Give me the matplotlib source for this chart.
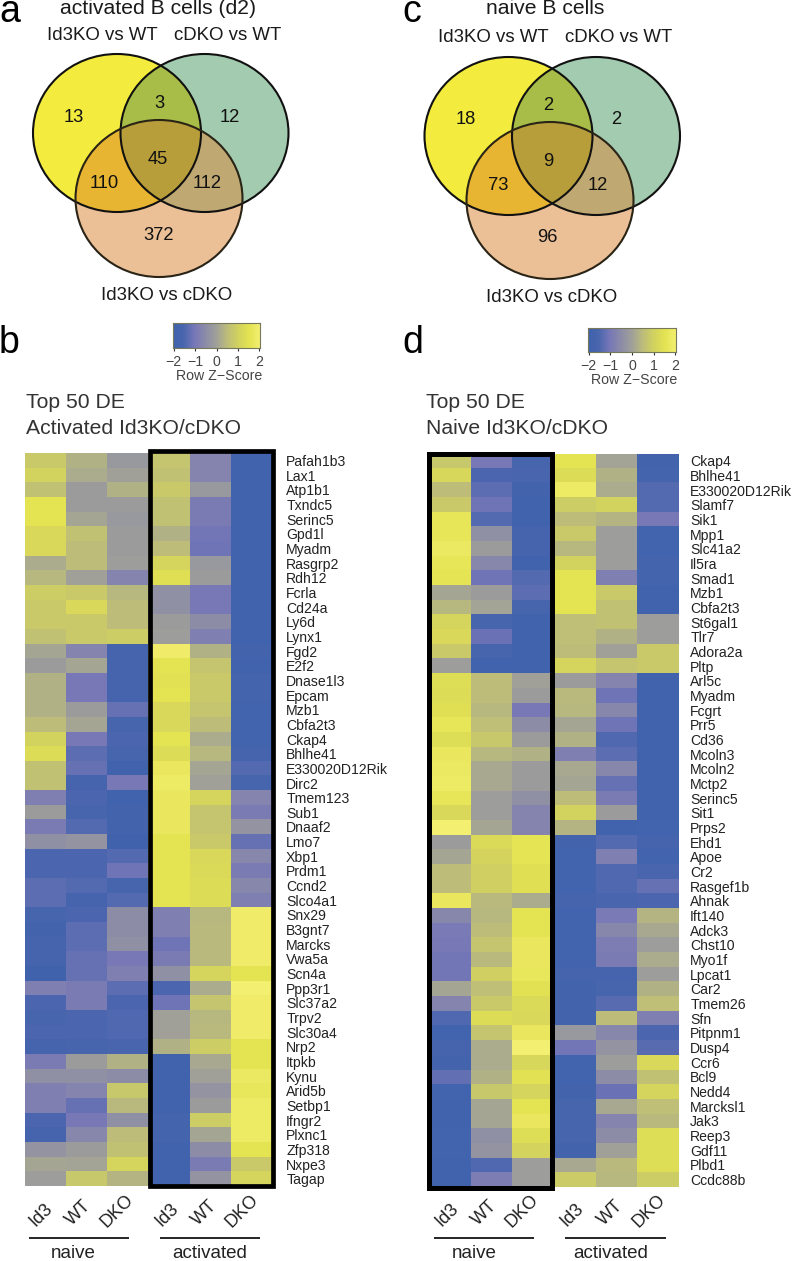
import numpy as np
import matplotlib
matplotlib.use('Agg')
import matplotlib.pyplot as plt
from matplotlib.colors import LinearSegmentedColormap
from matplotlib.patches import Ellipse, Polygon, Rectangle

plt.rcParams['font.family'] = ['Liberation Sans', 'DejaVu Sans']

W, H = 794, 1261

samples = ['Id3', 'WT', 'DKO', 'Id3', 'WT', 'DKO']
zticks = [-2, -1, 0, 1, 2]

counts_a = ['13', '3', '12', '45', '110', '112', '372']
counts_c = ['18', '2', '2', '9', '73', '12', '96']

genes_b = ['Pafah1b3', 'Lax1', 'Atp1b1', 'Txndc5', 'Serinc5', 'Gpd1l', 'Myadm', 'Rasgrp2', 'Rdh12', 'Fcrla',
           'Cd24a', 'Ly6d', 'Lynx1', 'Fgd2', 'E2f2', 'Dnase1l3', 'Epcam', 'Mzb1', 'Cbfa2t3', 'Ckap4',
           'Bhlhe41', 'E330020D12Rik', 'Dirc2', 'Tmem123', 'Sub1', 'Dnaaf2', 'Lmo7', 'Xbp1', 'Prdm1', 'Ccnd2',
           'Slco4a1', 'Snx29', 'B3gnt7', 'Marcks', 'Vwa5a', 'Scn4a', 'Ppp3r1', 'Slc37a2', 'Trpv2', 'Slc30a4',
           'Nrp2', 'Itpkb', 'Kynu', 'Arid5b', 'Setbp1', 'Ifngr2', 'Plxnc1', 'Zfp318', 'Nxpe3', 'Tagap']

z_b = [[.8, .3, -.2, .7, -.7, -1.9], [1.0, .2, 0, .6, -.7, -1.9], [.6, -.1, .3, .8, -.2, -1.9],
       [1.5, -.1, -.1, .6, -.9, -1.9], [1.5, .1, -.2, .6, -.9, -1.9], [1.2, .6, -.1, .3, -1.05, -1.9],
       [1.2, .5, -.1, .5, -1.1, -1.9], [.2, .5, -.05, 1.1, -.2, -1.9], [.4, 0, -.7, 1.4, -.1, -1.9],
       [.9, .8, .4, -.4, -1.0, -1.9], [.8, 1.2, .5, -.4, -1.0, -1.9], [.8, .8, .5, -.1, -.5, -1.9],
       [.6, .8, .9, -.05, -.8, -1.9], [.1, -.7, -1.7, 1.9, .3, -1.8], [-.1, .1, -1.7, 1.5, .7, -1.9],
       [.3, -1.0, -1.7, 1.45, .8, -1.75], [.3, -1.0, -1.7, 1.5, .8, -1.75], [.3, -.1, -1.2, 1.2, .7, -1.85],
       [.5, .1, -1.6, 1.2, .5, -1.85], [1.0, -1.0, -1.5, 1.5, .2, -1.85], [1.3, -1.3, -1.6, 1.3, .4, -1.7],
       [.6, -1.2, -1.9, 1.7, .1, -1.4], [.6, -1.7, -1.0, 1.8, 0, -1.6], [-.8, -1.5, -1.9, 1.7, 1.1, -.7],
       [-.1, -1.6, -1.8, 1.7, .7, -.9], [-.9, -1.4, -1.8, 1.7, .7, -.3], [-.4, -.3, -1.95, 1.5, .8, -1.2],
       [-1.5, -1.5, -1.4, 1.5, 1.2, -.6], [-1.5, -1.5, -1.1, 1.5, 1.25, -.9], [-1.3, -1.4, -1.6, 1.5, 1.3, -.6],
       [-1.3, -1.7, -1.4, 1.5, 1.3, -.8], [-1.6, -1.5, -.5, -.8, .4, 1.9], [-1.8, -1.3, -.5, -.8, .45, 1.9],
       [-1.7, -1.3, -.4, -1.1, .45, 1.9], [-1.7, -1.2, -1.0, -.9, .45, 1.9], [-1.95, -1.2, -.8, -.4, 1.1, 1.5],
       [-.8, -.9, -1.3, -1.5, .2, 2.0], [-1.5, -.9, -1.5, -1.1, .7, 1.9], [-1.6, -1.5, -1.45, 0, .4, 1.9],
       [-1.5, -1.5, -1.45, 0, .45, 1.9], [-1.7, -1.6, -1.55, .3, .9, 1.5], [-.9, -.1, .3, -1.9, .15, 1.5],
       [-.4, -.4, -.5, -1.9, 0, 1.75], [-.8, -.7, .75, -1.9, -.3, 1.65], [-.8, -1.2, .45, -1.9, -.1, 1.8],
       [-1.5, -1, -.4, -1.75, .9, 1.8], [-1.7, -.6, .5, -1.75, .1, 1.8], [-.3, -.1, .6, -1.9, -.5, 1.5],
       [.1, .05, 1.1, -1.9, -.9, .8], [-.05, .75, .35, -1.9, -.3, 1.1]]

genes_d = ['Ckap4', 'Bhlhe41', 'E330020D12Rik', 'Slamf7', 'Sik1', 'Mpp1', 'Slc41a2', 'Il5ra', 'Smad1', 'Mzb1',
           'Cbfa2t3', 'St6gal1', 'Tlr7', 'Adora2a', 'Pltp', 'Arl5c', 'Myadm', 'Fcgrt', 'Prr5', 'Cd36',
           'Mcoln3', 'Mcoln2', 'Mctp2', 'Serinc5', 'Sit1', 'Prps2', 'Ehd1', 'Apoe', 'Cr2', 'Rasgef1b',
           'Ahnak', 'Ift140', 'Adck3', 'Chst10', 'Myo1f', 'Lpcat1', 'Car2', 'Tmem26', 'Sfn', 'Pitpnm1',
           'Dusp4', 'Ccr6', 'Bcl9', 'Nedd4', 'Marcksl1', 'Jak3', 'Reep3', 'Gdf11', 'Plbd1', 'Ccdc88b']

z_d = [[.75, -1.0, -1.6, 1.5, .05, -1.8], [1.15, -1.5, -1.55, 1.3, .3, -1.75], [.5, -1.3, -1.8, 1.8, .2, -1.4],
       [.8, -1.1, -1.9, .9, 1.0, -1.4], [1.6, -1.4, -1.9, .5, .35, -1.0], [1.6, -.4, -1.7, .8, -.05, -1.85],
       [1.75, -.1, -1.7, .4, -.05, -1.85], [1.6, -.6, -1.9, 1.0, -.05, -1.75], [1.55, -1.1, -1.4, 1.5, -.8, -1.75],
       [.1, -.1, -1.3, 1.5, .8, -1.9], [.4, .05, -1.6, 1.5, .6, -1.9], [1.1, -1.6, -1.9, .55, .6, -.05],
       [1.2, -1.15, -1.9, .55, .3, -.05], [.8, -1.6, -1.9, .5, 0, .8], [-.05, -1.9, -1.9, 1.1, .7, .8],
       [1.35, .5, 0, -.1, -.7, -1.9], [1.3, .5, -.1, .45, -1.1, -1.9], [1.4, .4, -1.0, .4, -.6, -1.9],
       [1.6, .55, -.5, .1, -1.1, -1.9], [1.35, .75, -.1, .3, -1.45, -1.9], [1.7, .4, .3, -.8, -1.3, -1.9],
       [1.75, .15, -.1, .15, -.6, -1.9], [1.8, .15, -.1, .1, -1.2, -1.9], [1.6, -.05, -.4, .5, -.9, -1.9],
       [1.2, -.05, -.7, 1.0, -.1, -1.9], [2.0, .1, -.7, .35, -1.9, -1.85], [-.1, 1.25, 1.55, -1.8, -1.4, -1.7],
       [.1, 1.05, 1.55, -1.85, -.8, -1.85], [.5, .95, 1.4, -1.85, -1.45, -1.55], [.5, .95, 1.4, -1.85, -1.45, -1.2],
       [1.7, .45, .2, -1.65, -1.55, -1.5], [-.6, .4, 1.5, -1.85, -.95, .35], [-.95, .5, 1.5, -1.85, -.6, .15],
       [-1.0, .7, 1.7, -1.85, -.85, -.05], [-1.05, .45, 1.7, -1.85, -.9, .2], [-1.05, .95, 1.65, -1.7, -1.7, -.05],
       [.1, .55, 1.45, -1.8, -1.6, .3], [-.7, .8, 1.25, -1.8, -1.35, .55], [-1.45, 1.3, 1.2, -1.8, .5, -.8],
       [-1.85, .7, 1.7, -.2, -.6, -1.5], [-1.7, .2, 2.2, -1.05, -.3, -1.35], [-1.8, .2, 1.15, -1.85, -.05, 1.2],
       [-1.25, .3, 1.45, -1.85, -.5, .6], [-1.85, .75, 1.1, -1.8, -1.15, 1.1], [-1.9, .1, 1.5, -1.6, .15, .55],
       [-1.9, .1, 1.7, -1.6, -.7, .45], [-1.85, -.4, 1.35, -1.6, -.5, 1.35], [-1.85, -.3, 1.05, -1.8, 0, 1.35],
       [-1.9, -1.45, -.05, .15, .45, 1.35], [-1.9, -.85, -.05, .85, .4, .9]]

# blue - purple - grey - yellow
cmap = LinearSegmentedColormap.from_list('zscore', [
    (0.0, '#3F62AD'), (0.12, '#4A66AE'), (0.25, '#7878B8'), (0.375, '#8C8CA8'), (0.5, '#A0A09A'),
    (0.625, '#BDBD7A'), (0.75, '#D2D260'), (0.875, '#E4E352'), (1.0, '#F3EF70')])


def px_axes(x0, y0, x1, y1, **kw):
    return fig.add_axes([x0 / W, 1 - y1 / H, (x1 - x0) / W, (y1 - y0) / H], **kw)


def heatmap(box, z, genes, pad):
    ax = px_axes(*box)
    ax.imshow(np.array(z), cmap=cmap, vmin=-2, vmax=2, aspect='auto', interpolation='nearest')
    ax.set_xticks([])
    ax.set_yticks(range(len(genes)))
    ax.set_yticklabels(genes, fontsize=10.1, color='#222222', va='center_baseline')
    ax.yaxis.tick_right()
    ax.tick_params(axis='y', length=0, pad=pad)
    for s in ax.spines.values():
        s.set_visible(False)


def colour_key(box, title_xy):
    ax = px_axes(*box)
    ax.imshow(np.linspace(-2, 2, 256)[None, :], cmap=cmap, vmin=-2, vmax=2, aspect='auto', extent=[-2.03, 2.03, 0, 1])
    ax.set_yticks([])
    ax.set_xticks(zticks)
    ax.set_xticklabels(['\u2212%d' % -t if t < 0 else str(t) for t in zticks], fontsize=10.2, color='#444444')
    ax.tick_params(axis='x', length=2.5, width=0.8, pad=2.5, color='#333333')
    for s in ax.spines.values():
        s.set_color('#77775a')
        s.set_linewidth(0.8)
    over.text(title_xy[0], title_xy[1], 'Row Z\u2212Score', fontsize=10.2, color='#444444', ha='center', va='center')


def in_ellipse(p, c, rx, ry):
    return ((p[:, 0] - c[0]) / rx) ** 2 + ((p[:, 1] - c[1]) / ry) ** 2 <= 1.0001


def overlap(circles):
    # boundary points of each ellipse lying inside all the others, sorted round the centroid
    t = np.linspace(0, 2 * np.pi, 1500)
    pts = []
    for c, rx, ry in circles:
        p = np.c_[c[0] + rx * np.cos(t), c[1] + ry * np.sin(t)]
        for c2, rx2, ry2 in circles:
            p = p[in_ellipse(p, c2, rx2, ry2)]
        pts.append(p)
    pts = np.vstack(pts)
    m = pts.mean(axis=0)
    return pts[np.argsort(np.arctan2(pts[:, 1] - m[1], pts[:, 0] - m[0]))]


def venn(yc, gc, oc, counts, count_pos):
    y = (yc, 84, 79)
    g = (gc, 84, 79)
    o = (oc, 83.5, 78.5)
    for (c, rx, ry), col in zip([y, g, o], ['#F3EC3E', '#A3CBAF', '#ECC097']):
        over.add_patch(Ellipse(c, 2 * rx, 2 * ry, fc=col, ec='none'))
    for parts, col in [((y, g), '#A8BC48'), ((y, o), '#E7B532'), ((g, o), '#BFA872'), ((y, g, o), '#B89E3A')]:
        over.add_patch(Polygon(overlap(parts), closed=True, fc=col, ec='none'))
    for (c, rx, ry), col in zip([y, g, o], ['#111111', '#111111', '#2a2416']):
        over.add_patch(Ellipse(c, 2 * rx, 2 * ry, fc='none', ec=col, lw=1.5))
    for label, xy in zip(counts, count_pos):
        over.text(xy[0], xy[1], label, fontsize=13.2, color='#111111', ha='center', va='center')


fig = plt.figure(figsize=(W / 100, H / 100), dpi=100)

heatmap((25, 453.3, 272, 1186), z_b, genes_b, 10.2)
heatmap((429, 453.5, 678, 1186.7), z_d, genes_d, 8.8)

# pixel-coordinate layer for venns, titles and frames
over = fig.add_axes([0, 0, 1, 1], zorder=5)
over.set_xlim(0, W)
over.set_ylim(H, 0)
over.axis('off')

venn((117, 133), (204.5, 133), (159, 198.5), counts_a,
     [(74, 117), (159, 103), (230, 117), (158, 159), (104, 184), (207, 184), (159, 236)])
venn((508.5, 136), (596, 136), (550, 200.5), counts_c,
     [(466, 119), (548, 106), (616, 119), (548, 162), (498, 185), (598, 185), (547, 238)])

over.text(158, 9, 'activated B cells (d2)', fontsize=15.2, color='#1a1a1a', ha='center', va='center')
over.text(545, 9, 'naive B cells', fontsize=15.2, color='#1a1a1a', ha='center', va='center')
for x, y, s in [(102, 36, 'Id3KO vs WT'), (228, 36, 'cDKO vs WT'), (167, 295, 'Id3KO vs cDKO'),
                (493, 38, 'Id3KO vs WT'), (619, 38, 'cDKO vs WT'), (552, 297, 'Id3KO vs cDKO')]:
    over.text(x, y, s, fontsize=13.4, color='#1a1a1a', ha='center', va='center')

for x, y, s in [(-1, 21.5, 'a'), (-1, 353, 'b'), (402, 22, 'c'), (402, 353, 'd')]:
    over.text(x, y, s, fontsize=27, color='black', ha='left', va='baseline')

for x, y, s in [(26, 403, 'Top 50 DE'), (26, 428, 'Activated Id3KO/cDKO'),
                (426, 403, 'Top 50 DE'), (426, 428, 'Naive Id3KO/cDKO')]:
    over.text(x, y, s, fontsize=15.2, color='#333333', ha='left', va='center')

colour_key((173, 323, 260, 348), (219, 376))
colour_key((588, 328, 676, 352), (634, 380))

# black boxes round the compared samples
over.add_patch(Rectangle((150.3, 451.3), 123, 734.4, fc='none', ec='black', lw=3.4, joinstyle='miter'))
over.add_patch(Rectangle((428.6, 453.5), 123.1, 734, fc='none', ec='black', lw=3.6, joinstyle='miter'))

sample_x = [40.7, 79, 117, 167, 205, 242, 446.7, 485, 522, 572, 611, 649]
sample_y = [1215, 1213, 1211, 1215, 1213, 1211]
for i, x in enumerate(sample_x):
    over.text(x, sample_y[i % 6], samples[i % 6], fontsize=13, rotation=45, color='#222222',
              ha='center', va='center', rotation_mode='anchor')

for x0, x1, xt, s in [(29, 129, 73, 'naive'), (160, 260, 210, 'activated'),
                      (434, 534, 474, 'naive'), (565, 666, 611, 'activated')]:
    over.plot([x0, x1], [1238, 1238], color='black', lw=1.2, solid_capstyle='butt')
    over.text(xt, 1254, s, fontsize=13.5, color='#222222', ha='center', va='center')

fig.savefig('out.png', dpi=100)
